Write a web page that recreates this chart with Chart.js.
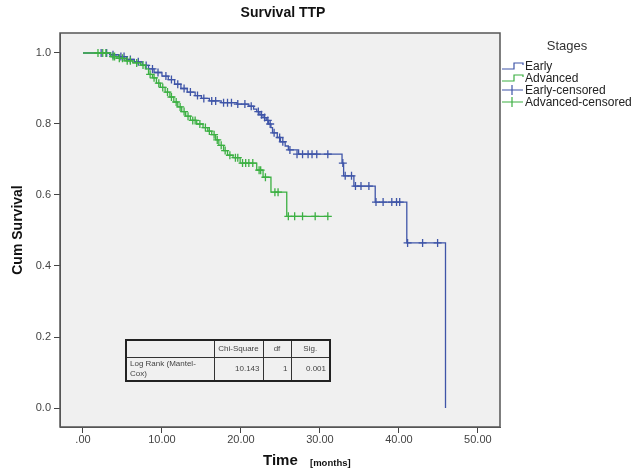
<!DOCTYPE html>
<html>
<head>
<meta charset="utf-8">
<script src="https://cdn.jsdelivr.net/npm/chart.js@4/dist/chart.umd.min.js"></script>
<style>
  html, body { margin: 0; padding: 0; background: #ffffff; }
  #wrap { position: relative; width: 633px; height: 468px; }
  #c { position: absolute; left: 0; top: 0; }
  #tbl { position: absolute; left: 125px; top: 339px; border-collapse: collapse; table-layout: fixed;
         width: 204px; font-family: "Liberation Sans", Arial, sans-serif; font-size: 8px; color: #444;
         border: 2px solid #222; }
  #tbl td { border: 1px solid #333; padding: 0 3px; overflow: hidden; white-space: nowrap; }
</style>
</head>
<body>
<div id="wrap">
<canvas id="c" width="633" height="468"></canvas>
<table id="tbl">
  <colgroup><col style="width:88px"><col style="width:49px"><col style="width:28px"><col style="width:39px"></colgroup>
  <tr style="height:17px">
    <td></td>
    <td style="text-align:center">Chi-Square</td>
    <td style="text-align:center">df</td>
    <td style="text-align:center">Sig.</td>
  </tr>
  <tr style="height:24px">
    <td style="line-height:10px">Log Rank (Mantel-<br>Cox)</td>
    <td style="text-align:right">10.143</td>
    <td style="text-align:right">1</td>
    <td style="text-align:right">0.001</td>
  </tr>
</table>
</div>
<script>
// ---- data ----
const xTicks = [0, 10, 20, 30, 40, 50];
const yTicks = [0, 0.2, 0.4, 0.6, 0.8, 1.0];

const seriesNames = ["Early", "Advanced", "Early-censored", "Advanced-censored"];

// Early stage: Kaplan-Meier steps (time, cumulative survival)
const earlyTime = [0, 3.5, 4.5, 5.5, 6.5, 7.5, 8.3, 9.0, 10.0, 10.8, 11.6, 12.4, 13.2, 14.2, 15.0, 16.0, 17.5, 19.5, 21.0, 21.6, 22.0, 22.4, 22.8, 23.2, 23.5, 23.8, 24.0, 24.6, 25.0, 25.6, 26.0, 27.3, 32.8, 33.0, 34.3, 37.0, 41.0, 45.9];
const earlySurv = [1.0, 0.995, 0.99, 0.982, 0.975, 0.965, 0.955, 0.945, 0.935, 0.925, 0.912, 0.9, 0.89, 0.88, 0.872, 0.865, 0.86, 0.856, 0.85, 0.842, 0.835, 0.826, 0.818, 0.81, 0.8, 0.79, 0.775, 0.762, 0.75, 0.738, 0.727, 0.715, 0.69, 0.654, 0.625, 0.58, 0.465, 0.0];
const earlyCensTime = [2.3, 3.0, 3.8, 4.8, 5.2, 6.0, 7.0, 8.0, 8.8, 9.5, 10.5, 11.2, 12.0, 12.8, 13.6, 14.5, 15.3, 16.3, 16.8, 17.8, 18.3, 18.8, 19.6, 20.5, 21.3, 22.2, 22.6, 23.0, 23.4, 23.7, 24.2, 24.9, 25.3, 26.2, 27.1, 27.8, 28.5, 29.0, 29.6, 31.0, 32.9, 33.2, 34.0, 34.5, 35.2, 36.2, 37.1, 38.0, 39.1, 39.7, 40.1, 41.1, 43.0, 44.9];
const earlyCensSurv = [1.0, 1.0, 0.995, 0.99, 0.99, 0.982, 0.975, 0.965, 0.955, 0.945, 0.935, 0.925, 0.912, 0.9, 0.89, 0.88, 0.872, 0.865, 0.865, 0.86, 0.86, 0.86, 0.856, 0.856, 0.85, 0.835, 0.826, 0.818, 0.81, 0.8, 0.775, 0.762, 0.75, 0.727, 0.715, 0.715, 0.715, 0.715, 0.715, 0.715, 0.69, 0.654, 0.654, 0.625, 0.625, 0.625, 0.58, 0.58, 0.58, 0.58, 0.58, 0.465, 0.465, 0.465];

// Advanced stage
const advTime = [0, 3.5, 4.3, 5.3, 6.3, 7.3, 7.9, 8.3, 8.8, 9.3, 9.8, 10.4, 11.0, 11.5, 12.0, 12.5, 13.0, 13.6, 14.4, 15.2, 15.8, 16.3, 16.8, 17.2, 17.8, 18.3, 19.0, 19.9, 22.0, 22.8, 23.8, 25.8, 31.0];
const advSurv = [1.0, 0.99, 0.985, 0.978, 0.972, 0.966, 0.955, 0.94, 0.93, 0.915, 0.903, 0.89, 0.876, 0.862, 0.848, 0.835, 0.822, 0.81, 0.8, 0.79, 0.78, 0.77, 0.755, 0.74, 0.725, 0.712, 0.705, 0.69, 0.67, 0.65, 0.608, 0.54, 0.54];
const advCensTime = [1.9, 2.5, 2.9, 3.8, 4.0, 4.6, 5.0, 5.6, 6.0, 6.8, 7.6, 8.5, 9.0, 9.6, 10.1, 10.7, 11.2, 11.8, 12.3, 12.8, 13.3, 13.9, 14.2, 14.8, 15.5, 16.0, 16.6, 17.0, 17.5, 18.0, 18.6, 19.3, 19.6, 20.2, 20.6, 21.0, 21.5, 22.3, 22.5, 23.1, 24.3, 24.7, 26.0, 26.8, 27.8, 29.4, 31.0];
const advCensSurv = [1.0, 1.0, 1.0, 0.99, 0.99, 0.985, 0.985, 0.978, 0.978, 0.972, 0.966, 0.94, 0.93, 0.915, 0.903, 0.89, 0.876, 0.862, 0.848, 0.835, 0.822, 0.81, 0.81, 0.8, 0.79, 0.78, 0.77, 0.755, 0.74, 0.725, 0.712, 0.705, 0.705, 0.69, 0.69, 0.69, 0.69, 0.67, 0.67, 0.65, 0.608, 0.608, 0.54, 0.54, 0.54, 0.54, 0.54];

// ---- styling ----
const BLUE = "#3f55a8";
const GREEN = "#3cb043";
const FONT = "'Liberation Sans', Arial, sans-serif";

const pts = (xs, ys) => xs.map((x, i) => ({ x: x, y: ys[i] }));

const PLOT = { left: 60, top: 33, right: 500, bottom: 427 };

const decor = {
  id: "decor",
  beforeDraw(chart) {
    const { ctx, chartArea: a } = chart;
    ctx.save();
    ctx.fillStyle = "#f0f0f0";
    ctx.fillRect(a.left, a.top, a.right - a.left, a.bottom - a.top);
    ctx.restore();
  },
  afterDraw(chart) {
    const { ctx, chartArea: a } = chart;
    ctx.save();
    ctx.strokeStyle = "#555";
    ctx.lineWidth = 1.5;
    ctx.strokeRect(a.left, a.top, a.right - a.left, a.bottom - a.top);

    // title
    ctx.fillStyle = "#111";
    ctx.textAlign = "center";
    ctx.textBaseline = "middle";
    ctx.font = "bold 14px " + FONT;
    ctx.fillText("Survival TTP", 283, 13);

    // x axis title
    ctx.font = "bold 15px " + FONT;
    ctx.textAlign = "left";
    ctx.fillText("Time", 263, 461);
    ctx.font = "bold 9.5px " + FONT;
    ctx.fillText("[months]", 310, 463);

    // y axis title
    ctx.save();
    ctx.translate(18, 230);
    ctx.rotate(-Math.PI / 2);
    ctx.textAlign = "center";
    ctx.font = "bold 14px " + FONT;
    ctx.fillText("Cum Survival", 0, 0);
    ctx.restore();

    // legend
    ctx.textAlign = "center";
    ctx.font = "13px " + FONT;
    ctx.fillStyle = "#333";
    ctx.fillText("Stages", 567, 46);
    ctx.textAlign = "left";
    ctx.font = "12px " + FONT;
    const cols = [BLUE, GREEN, BLUE, GREEN];
    const ys = [66, 78, 90, 102];
    for (let i = 0; i < 4; i++) {
      const y = ys[i];
      ctx.strokeStyle = cols[i];
      ctx.lineWidth = 1.2;
      ctx.beginPath();
      if (i < 2) {
        ctx.moveTo(502, y + 3);
        ctx.lineTo(514, y + 3);
        ctx.lineTo(514, y - 3);
        ctx.lineTo(523, y - 3);
        ctx.lineTo(523, y - 1);
      } else {
        ctx.moveTo(502, y);
        ctx.lineTo(523, y);
        ctx.moveTo(512, y - 5);
        ctx.lineTo(512, y + 5);
      }
      ctx.stroke();
      ctx.fillStyle = "#222";
      ctx.fillText(seriesNames[i], 525, y + 0.5);
    }
    ctx.restore();
  }
};

new Chart(document.getElementById("c"), {
  type: "scatter",
  data: {
    datasets: [
      { label: seriesNames[0], data: pts(earlyTime, earlySurv), showLine: true, stepped: "before",
        borderColor: BLUE, borderWidth: 1.3, pointRadius: 0, fill: false, order: 2 },
      { label: seriesNames[1], data: pts(advTime, advSurv), showLine: true, stepped: "before",
        borderColor: GREEN, borderWidth: 1.3, pointRadius: 0, fill: false, order: 1 },
      { label: seriesNames[2], data: pts(earlyCensTime, earlyCensSurv), showLine: false,
        pointStyle: "cross", pointRadius: 4, borderColor: BLUE, borderWidth: 1.3, order: 2 },
      { label: seriesNames[3], data: pts(advCensTime, advCensSurv), showLine: false,
        pointStyle: "cross", pointRadius: 4, borderColor: GREEN, borderWidth: 1.3, order: 1 }
    ]
  },
  options: {
    responsive: false,
    animation: false,
    events: [],
    layout: { padding: { left: 0, top: PLOT.top, right: 633 - PLOT.right, bottom: 0 } },
    plugins: { legend: { display: false }, title: { display: false }, tooltip: { enabled: false } },
    scales: {
      x: {
        type: "linear",
        min: -2.91, max: 52.8,
        afterFit: s => { s.height = 468 - PLOT.bottom; },
        afterBuildTicks: s => { s.ticks = xTicks.map(v => ({ value: v })); },
        grid: { drawOnChartArea: false, drawTicks: true, tickLength: 6, color: "#444", lineWidth: 1 },
        border: { display: true, color: "#555" },
        ticks: { padding: 0, color: "#444", font: { family: FONT, size: 11 },
                 callback: v => (v === 0 ? ".00" : v.toFixed(2)) }
      },
      y: {
        type: "linear",
        min: -0.0535, max: 1.0563,
        afterFit: s => { s.width = PLOT.left; },
        afterBuildTicks: s => { s.ticks = yTicks.map(v => ({ value: v })); },
        grid: { drawOnChartArea: false, drawTicks: true, tickLength: 6, color: "#444", lineWidth: 1 },
        border: { display: true, color: "#555" },
        ticks: { padding: 3, color: "#444", font: { family: FONT, size: 11 },
                 callback: v => v.toFixed(1) }
      }
    }
  },
  plugins: [decor]
});
</script>
</body>
</html>
